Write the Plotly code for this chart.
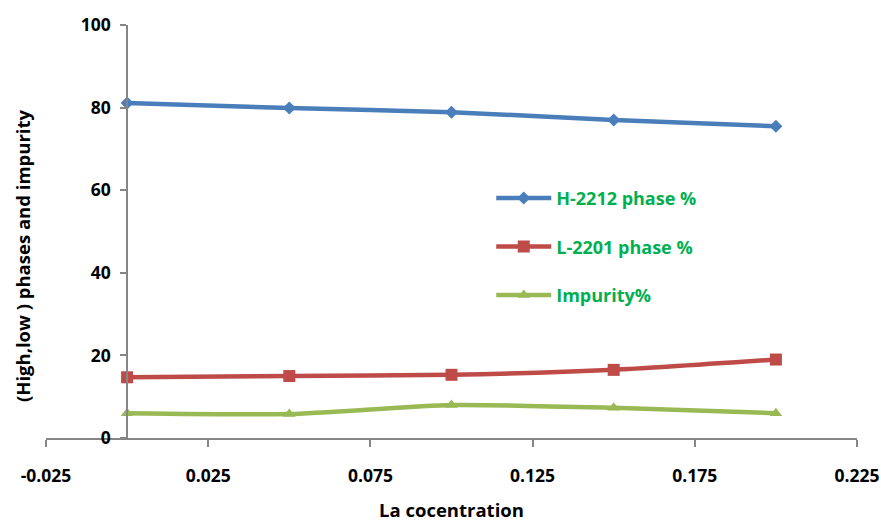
import plotly.graph_objects as go

x_vals = [0, 0.05, 0.1, 0.15, 0.2]
h2212 = [81.1, 79.9, 78.9, 77.0, 75.5]
l2201 = [14.7, 15.0, 15.3, 16.5, 19.0]
impurity = [6.0, 5.8, 8.0, 7.3, 6.0]
series_names = ["H-2212 phase %", "L-2201 phase %", "Impurity%"]
x_ticks = [-0.025, 0.025, 0.075, 0.125, 0.175, 0.225]
x_tick_text = ["-0.025", "0.025", "0.075", "0.125", "0.175", "0.225"]
y_ticks = [0, 20, 40, 60, 80, 100]
x_title = "La cocentration"
y_title = "(High,low ) phases and impurity"

colors = ["#4A7EBB", "#BE4B48", "#98B954"]
symbols = ["diamond", "square", "triangle-up"]
sizes = [10, 12, 11]

fig = go.Figure()
for i, (name, ys) in enumerate(zip(series_names, [h2212, l2201, impurity])):
    fig.add_trace(go.Scatter(
        x=x_vals, y=ys, name=f"<b>{name}</b>", mode="lines+markers",
        line=dict(color=colors[i], width=4.5, shape="spline", smoothing=0.6),
        marker=dict(symbol=symbols[i], size=sizes[i], color=colors[i]),
        legendgroup=f"g{i}",
    ))

axis_font = dict(family="Open Sans", size=17.5, color="#000000")
fig.update_layout(
    width=881, height=522,
    margin=dict(l=46, r=24, t=25, b=84),
    plot_bgcolor="white", paper_bgcolor="white",
    font=dict(family="Open Sans"),
    xaxis=dict(
        range=[-0.025, 0.225], tickvals=x_ticks, ticktext=[f"<b>{t}</b>" for t in x_tick_text],
        showgrid=False, zeroline=False, showline=True, linecolor="#868686", linewidth=1.5,
        ticks="outside", ticklen=7, tickcolor="#868686", tickwidth=1.5,
        tickfont=axis_font, automargin=False, ticklabelstandoff=14,
    ),
    yaxis=dict(
        range=[0, 100], tickvals=y_ticks, ticktext=[f"<b>{t}</b>" for t in y_ticks],
        anchor="free", position=0.1,
        showgrid=False, zeroline=False, showline=True, linecolor="#868686", linewidth=1.5,
        ticks="outside", ticklen=6, tickcolor="#868686", tickwidth=1.5,
        tickfont=axis_font, automargin=False, ticklabelstandoff=6,
    ),
    legend=dict(
        x=0.549, y=0.625, xanchor="left", yanchor="top",
        font=dict(family="Open Sans", size=18, color="#00B050"),
        bgcolor="rgba(0,0,0,0)", traceorder="grouped", tracegroupgap=22,
        itemwidth=55,
    ),
    annotations=[
        dict(text=f"<b>{x_title}</b>", xref="paper", yref="paper", x=0.5006, y=-0.172,
             xanchor="center", yanchor="middle", showarrow=False,
             font=dict(family="Open Sans", size=18.5, color="#000")),
        dict(text=f"<b>{y_title}</b>", xref="paper", yref="paper", x=-0.0296, y=0.443,
             xanchor="center", yanchor="middle", textangle=-90, showarrow=False,
             font=dict(family="Open Sans", size=18.5, color="#000")),
    ],
)

fig.write_html("out.html")
